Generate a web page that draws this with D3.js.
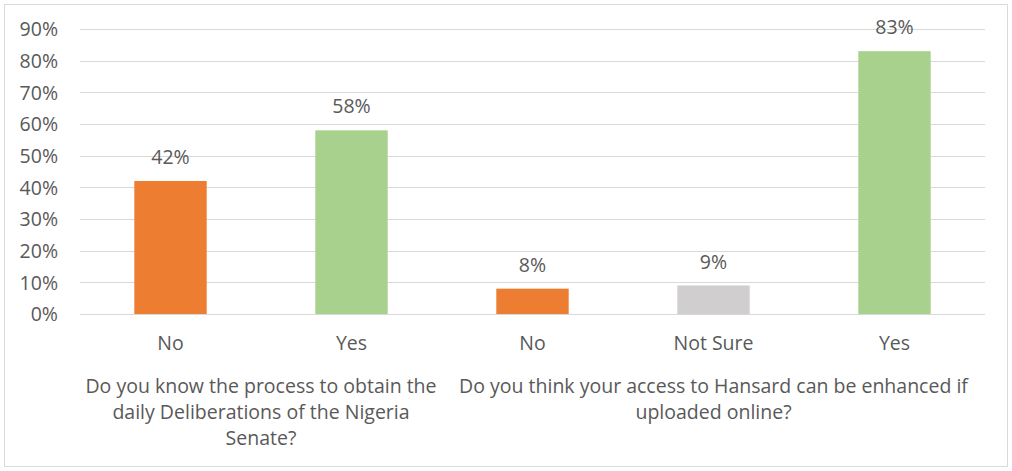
<!DOCTYPE html>
<html>
<head>
<meta charset="utf-8">
<script src="https://cdn.jsdelivr.net/npm/d3@7"></script>
<style>
  html, body { margin: 0; padding: 0; background: #fff; }
  svg text { font-family: "Open Sans", Lato, sans-serif; fill: #595959; }
</style>
</head>
<body>
<svg id="chart" width="1012" height="471"></svg>
<script>
// Survey answers, two questions side by side
const categories = ["No", "Yes", "No", "Not Sure", "Yes"];
const values = [42, 58, 8, 9, 83];
const barColors = ["#ED7D31", "#A9D18E", "#ED7D31", "#D0CECE", "#A9D18E"];
const groups = [
  { lines: ["Do you know the process to obtain the", "daily Deliberations of the Nigeria", "Senate?"], from: 0, to: 1 },
  { lines: ["Do you think your access to Hansard can be enhanced if", "uploaded online?"], from: 2, to: 4 }
];
const yTicks = [0, 10, 20, 30, 40, 50, 60, 70, 80, 90];

const svg = d3.select("#chart");
const W = 1012, H = 471;
const plot = { left: 80, right: 985, top: 29, bottom: 314 };
const fontSize = "19.5px";

// chart frame
svg.append("rect")
  .attr("x", 4.5).attr("y", 4.5)
  .attr("width", W - 9).attr("height", H - 9)
  .attr("fill", "#fff").attr("stroke", "#d9d9d9").attr("stroke-width", 1);

const x = d3.scaleBand()
  .domain(d3.range(categories.length))
  .range([plot.left, plot.right])
  .paddingInner(0.6)
  .paddingOuter(0.3);

const y = d3.scaleLinear().domain([0, 90]).range([plot.bottom, plot.top]);

// horizontal gridlines
svg.append("g")
  .selectAll("line")
  .data(yTicks)
  .join("line")
  .attr("x1", plot.left).attr("x2", plot.right)
  .attr("y1", d => Math.round(y(d)) + 0.5)
  .attr("y2", d => Math.round(y(d)) + 0.5)
  .attr("stroke", "#d9d9d9").attr("stroke-width", 1);

// y-axis labels
const yAxis = d3.axisLeft(y).tickValues(yTicks).tickFormat(d => d + "%").tickSize(0).tickPadding(0);
const yg = svg.append("g").attr("transform", `translate(${plot.left - 22},0)`).call(yAxis);
yg.select(".domain").remove();
yg.selectAll("text").style("font-size", fontSize).attr("fill", "#595959").attr("dy", "0.35em");

// bars
svg.append("g")
  .selectAll("rect")
  .data(values)
  .join("rect")
  .attr("x", (d, i) => x(i))
  .attr("width", x.bandwidth())
  .attr("y", d => y(d))
  .attr("height", d => y(0) - y(d))
  .attr("fill", (d, i) => barColors[i]);

// value labels
svg.append("g")
  .selectAll("text")
  .data(values)
  .join("text")
  .attr("x", (d, i) => x(i) + x.bandwidth() / 2)
  .attr("y", d => y(d) - 17)
  .attr("text-anchor", "middle")
  .style("font-size", fontSize)
  .text(d => d + "%");

// category labels
const xAxis = d3.axisBottom(x).tickFormat(i => categories[i]).tickSize(0).tickPadding(0);
const xg = svg.append("g").attr("transform", `translate(0,${plot.bottom + 29})`).call(xAxis);
xg.select(".domain").remove();
xg.selectAll("text").style("font-size", fontSize).attr("fill", "#595959").attr("dy", "0.35em");

// question labels under each group
groups.forEach(g => {
  const cx = (x(g.from) + x(g.to) + x.bandwidth()) / 2;
  svg.append("text")
    .attr("text-anchor", "middle")
    .style("font-size", fontSize)
    .selectAll("tspan")
    .data(g.lines)
    .join("tspan")
    .attr("x", cx)
    .attr("y", (d, i) => 393 + i * 26)
    .text(d => d);
});
</script>
</body>
</html>
